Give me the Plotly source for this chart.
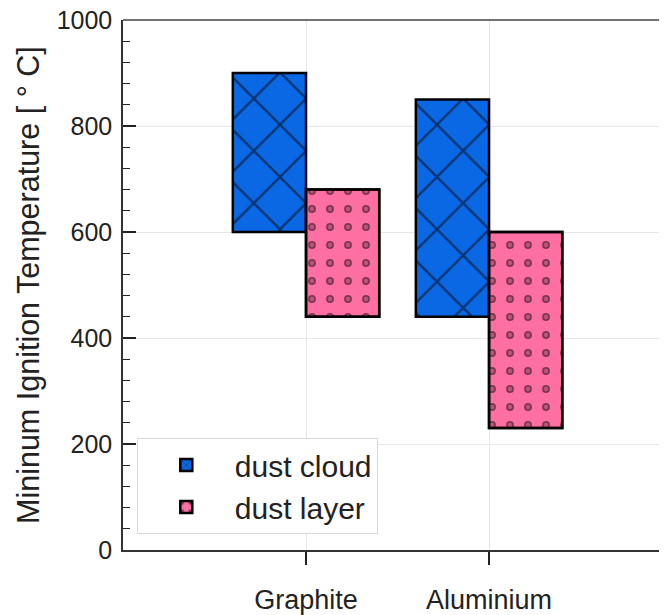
import plotly.graph_objects as go

categories = ["Graphite", "Aluminium"]
cloud_low = [600, 440]
cloud_high = [900, 850]
layer_low = [440, 230]
layer_high = [680, 600]
y_ticks = [0, 200, 400, 600, 800, 1000]
y_title = "Mininum Ignition Temperature [ ° C]"

BLUE = "#0a68e4"
PINK = "#ff6fa2"
FONT = "Liberation Sans, Arial, sans-serif"
CLEAR = "rgba(0,0,0,0)"

cloud_h = [h - l for h, l in zip(cloud_high, cloud_low)]
layer_h = [h - l for h, l in zip(layer_high, layer_low)]

fig = go.Figure()
fig.add_trace(go.Bar(
    x=categories, y=cloud_h, base=cloud_low, name="dust cloud",
    offset=-0.4, width=0.4,
    marker=dict(color=BLUE, line=dict(color="black", width=2.5),
                pattern=dict(shape="x", size=37, solidity=0.12,
                             fgcolor="black", bgcolor=BLUE)),
))
fig.add_trace(go.Bar(
    x=categories, y=layer_h, base=layer_low, name="dust layer",
    offset=0, width=0.4,
    marker=dict(color=PINK, line=dict(color="black", width=2.5),
                pattern=dict(shape=".", size=18, solidity=0.15,
                             fgcolor="black", bgcolor=PINK)),
))
fig.add_trace(go.Bar(
    x=categories, y=layer_h, base=layer_low, name="dust layer",
    offset=0, width=0.4, showlegend=False, hoverinfo="skip",
    marker=dict(color=CLEAR, line=dict(color="black", width=2.5),
                pattern=dict(shape=".", size=18, solidity=0.045,
                             fgcolor=PINK, bgcolor=CLEAR)),
))

fig.add_shape(type="line", xref="paper", yref="paper", x0=0, x1=1, y0=1, y1=1,
              line=dict(color="#444444", width=1.5))

fig.add_annotation(text=y_title, xref="paper", yref="paper", x=0, y=0.5,
                   xanchor="center", yanchor="middle", xshift=-95, textangle=-90,
                   showarrow=False, font=dict(size=30.5, family=FONT, color="#222222"))

fig.update_layout(
    width=667, height=615,
    margin=dict(l=115, r=0, t=12, b=73),
    barmode="overlay",
    plot_bgcolor="white", paper_bgcolor="white",
    font=dict(family=FONT, size=24, color="#222222"),
    showlegend=True,
    legend=dict(x=0.025, y=0.03, xanchor="left", yanchor="bottom",
                bgcolor="white", bordercolor="#d8d8d8", borderwidth=1,
                font=dict(size=30, family=FONT), itemwidth=87, tracegroupgap=4),
    xaxis=dict(range=[-1, 2.016], showline=True, linecolor="#333333", linewidth=1.5,
               ticks="outside", ticklen=13, tickwidth=1.5, tickcolor="#222222",
               showgrid=True, gridcolor="#e6e6e6", gridwidth=1, automargin=False,
               tickfont=dict(size=27), ticklabelstandoff=12, zeroline=False,
               ticklabeloverflow="allow"),
    yaxis=dict(range=[0, 1000], tickvals=y_ticks, showline=True, linecolor="#333333",
               linewidth=1.5, ticks="inside", ticklen=13, tickwidth=1.5, tickcolor="#222222",
               minor=dict(ticks="inside", dtick=40, ticklen=7, tickwidth=1, tickcolor="#222222",
                          showgrid=False),
               showgrid=True, gridcolor="#e6e6e6", gridwidth=1, zeroline=False,
               automargin=False, ticklabeloverflow="allow",
               tickfont=dict(size=25), ticklabelstandoff=4),
)

fig.write_html("out.html")
